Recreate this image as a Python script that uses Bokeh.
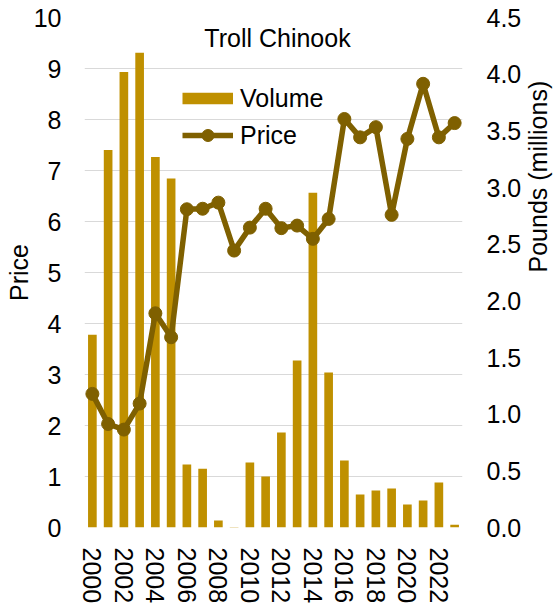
import math
from bokeh.plotting import figure
from bokeh.models import (Range1d, LinearAxis, FixedTicker, Legend, LegendItem,
                          Label, ColumnDataSource, NumeralTickFormatter)
from bokeh.embed import file_html
from bokeh.resources import INLINE

years = list(range(2000, 2024))
volume = [1.70, 3.33, 4.02, 4.19, 3.27, 3.08, 0.556, 0.518, 0.062, 0.004,
          0.574, 0.45, 0.838, 1.474, 2.954, 1.368, 0.591, 0.291, 0.327, 0.344,
          0.203, 0.238, 0.397, 0.024]
price = [2.62, 2.03, 1.92, 2.43, 4.20, 3.73, 6.24, 6.25, 6.37, 5.43,
         5.88, 6.25, 5.87, 5.92, 5.66, 6.05, 8.01, 7.65, 7.85, 6.13,
         7.62, 8.70, 7.65, 7.93]
price_ticks = list(range(0, 11))
volume_ticks = [0.0, 0.5, 1.0, 1.5, 2.0, 2.5, 3.0, 3.5, 4.0, 4.5]
year_ticks = years[::2]

title_text = "Troll Chinook"
FONT = "Liberation Sans"
BAR = "#BF9000"
LINE = "#7F6000"
GRID = "#D9D9D9"
FS = "25px"

src = ColumnDataSource(dict(year=years, volume=volume, price=price))

p = figure(frame_width=378, frame_height=510,
           min_border_left=84, min_border_right=92,
           min_border_top=17, min_border_bottom=81,
           x_range=Range1d(1999.5, 2023.5), y_range=Range1d(0, 10),
           output_backend="svg", toolbar_location=None,
           outline_line_color=None)
p.extra_y_ranges = {"vol": Range1d(0, 4.5)}

bars = p.vbar(x="year", top="volume", width=0.55, source=src,
              y_range_name="vol", fill_color=BAR, line_color=None)
line_r = p.line(x="year", y="price", source=src, line_color=LINE,
                line_width=5.5)
pts = p.scatter(x="year", y="price", source=src, size=13,
                fill_color=LINE, line_color=LINE)

# legend swatch for volume: single-point line (draws nothing in the plot)
vol_swatch = p.line(x=years[:1], y=volume[:1], y_range_name="vol",
                    line_color=BAR, line_width=11.5, line_cap="butt")

p.ygrid.ticker = FixedTicker(ticks=price_ticks)
p.xgrid.grid_line_color = None
p.ygrid.grid_line_color = GRID
p.ygrid.grid_line_width = 1.2

lax = p.yaxis[0]
bax = p.xaxis[0]
rax = LinearAxis(y_range_name="vol", ticker=FixedTicker(ticks=volume_ticks),
                 formatter=NumeralTickFormatter(format="0.0"))
p.add_layout(rax, "right")

for ax in [lax, bax, rax]:
    ax.axis_line_color = None
    ax.major_tick_line_color = None
    ax.minor_tick_line_color = None
    ax.major_tick_out = 0
    ax.major_tick_in = 0
    ax.minor_tick_out = 0
    ax.minor_tick_in = 0
    ax.major_label_text_font = FONT
    ax.major_label_text_font_size = FS
    ax.major_label_text_color = "black"
    ax.axis_label_text_font = FONT
    ax.axis_label_text_font_size = FS
    ax.axis_label_text_font_style = "normal"
    ax.axis_label_text_color = "black"

lax.ticker = FixedTicker(ticks=price_ticks)
lax.major_label_standoff = 23
lax.axis_label = "Price"
lax.axis_label_standoff = -2

bax.ticker = FixedTicker(ticks=year_ticks)
bax.major_label_orientation = "vertical"
bax.major_label_standoff = 20

rax.major_label_standoff = 24
rax.axis_label = "Pounds (millions)"
rax.axis_label_standoff = 14
try:
    rax.axis_label_orientation = math.pi / 2
except Exception:
    pass

p.add_layout(Label(x=193, y=490, x_units="screen", y_units="screen",
                   text=title_text, text_align="center",
                   text_baseline="alphabetic", text_font=FONT,
                   text_font_size=FS, text_color="black"))

legend = Legend(items=[LegendItem(label="Volume", renderers=[vol_swatch]),
                       LegendItem(label="Price", renderers=[line_r, pts])],
                location=(98, 377), orientation="vertical",
                glyph_width=51, glyph_height=30, label_height=30,
                spacing=7, padding=0, margin=0, label_standoff=7,
                border_line_color=None, background_fill_alpha=0,
                label_text_font=FONT, label_text_font_size=FS,
                label_text_color="black")
p.add_layout(legend)

open("out.html", "w").write(file_html(p, INLINE))
